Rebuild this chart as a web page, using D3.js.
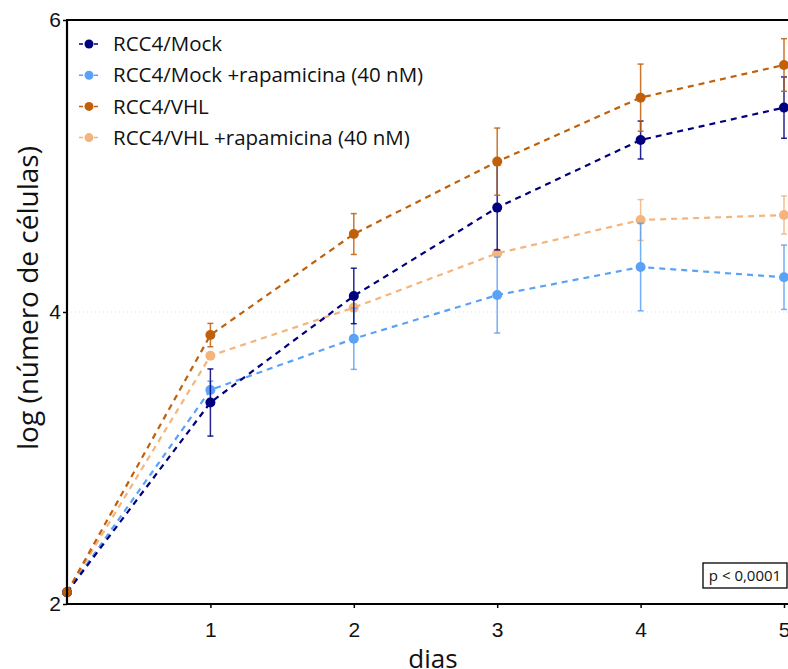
<!DOCTYPE html>
<html><head><meta charset="utf-8">
<script src="https://cdn.jsdelivr.net/npm/d3@7"></script>
<style>html,body{margin:0;padding:0;background:#fff;}svg{display:block;font-family:"Open Sans",sans-serif;}</style>
</head><body>
<svg id="c" width="788" height="669"></svg>
<script>
const days = [0, 1, 2, 3, 4, 5];
const seriesNames = ["RCC4/Mock", "RCC4/Mock +rapamicina (40 nM)", "RCC4/VHL", "RCC4/VHL +rapamicina (40 nM)"];
const seriesColors = ["#00007f", "#5aa2f7", "#c0600a", "#f3b57c"];
const mockVals = [2.08, 3.38, 4.11, 4.715, 5.178, 5.40];
const mockErr  = [0, 0.23, 0.19, 0.29, 0.13, 0.21];
const mockRapaVals = [2.08, 3.466, 3.817, 4.116, 4.308, 4.238];
const mockRapaErr  = [0, 0.06, 0.21, 0.26, 0.30, 0.22];
const vhlVals = [2.08, 3.842, 4.534, 5.03, 5.468, 5.692];
const vhlErr  = [0, 0.08, 0.14, 0.23, 0.23, 0.18];
const vhlRapaVals = [2.08, 3.70, 4.03, 4.402, 4.63, 4.664];
const vhlRapaErr  = [0, 0.02, 0.01, 0.02, 0.14, 0.13];
const yTicks = [2, 4, 6];
const xTicks = [1, 2, 3, 4, 5];
const yTitle = "log (número de células)";
const xTitle = "dias";
const pText = "p < 0,0001";

const series = [
  {name: seriesNames[0], color: seriesColors[0], v: mockVals, e: mockErr},
  {name: seriesNames[1], color: seriesColors[1], v: mockRapaVals, e: mockRapaErr},
  {name: seriesNames[2], color: seriesColors[2], v: vhlVals, e: vhlErr},
  {name: seriesNames[3], color: seriesColors[3], v: vhlRapaVals, e: vhlRapaErr}
];

const svg = d3.select("#c");
const L = 67, R = 784, T = 20, B = 604;
const x = d3.scaleLinear().domain([0, 5]).range([L, R]);
const y = d3.scaleLinear().domain([2, 6]).range([B, T]);

// gridline at 4
svg.append("line").attr("x1", L).attr("x2", 788).attr("y1", y(4)).attr("y2", y(4))
  .attr("stroke", "#ddd").attr("stroke-width", 1).attr("stroke-dasharray", "1,3");

const drawOrder = [3, 1, 0, 2];
drawOrder.forEach(i => {
  const s = series[i];
  const g = svg.append("g");
  const pts = days.map((d, k) => ({d, v: s.v[k], e: s.e[k]}));
  g.append("path").datum(pts)
    .attr("d", d3.line().x(p => x(p.d)).y(p => y(p.v)))
    .attr("fill", "none").attr("stroke", s.color).attr("stroke-width", 2.2)
    .attr("stroke-dasharray", "6,5");
  pts.filter(p => p.e > 0).forEach(p => {
    const x0 = x(p.d), y1 = y(p.v + p.e), y2 = y(p.v - p.e);
    g.append("line").attr("x1", x0).attr("x2", x0).attr("y1", y1).attr("y2", y2)
      .attr("stroke", s.color).attr("stroke-width", 1.5).attr("opacity", 0.85);
    [y1, y2].forEach(yy => g.append("line").attr("x1", x0 - 3).attr("x2", x0 + 3)
      .attr("y1", yy).attr("y2", yy).attr("stroke", s.color).attr("stroke-width", 1.5).attr("opacity", 0.85));
  });
  g.selectAll("circle").data(pts).enter().append("circle")
    .attr("cx", p => x(p.d)).attr("cy", p => y(p.v)).attr("r", 5).attr("fill", s.color);
});

// axes
const xAxis = svg.append("g").attr("transform", `translate(0,${B})`)
  .call(d3.axisBottom(x).tickValues(xTicks).tickSize(4).tickPadding(10).tickFormat(d3.format("d")));
xAxis.select(".domain").remove();
xAxis.selectAll("text").attr("font-size", 21).attr("fill", "#111").attr("dy", "0.9em");
xAxis.selectAll(".tick line").attr("stroke", "#000").attr("stroke-width", 1.5);
svg.append("line").attr("x1", L).attr("x2", 788).attr("y1", B).attr("y2", B).attr("stroke", "#000").attr("stroke-width", 2.2);
svg.append("line").attr("x1", L).attr("x2", 788).attr("y1", T).attr("y2", T).attr("stroke", "#000").attr("stroke-width", 2.2);

const yAxis = svg.append("g").attr("transform", `translate(${L},0)`)
  .call(d3.axisLeft(y).tickValues(yTicks).tickSize(4).tickPadding(2).tickFormat(d3.format("d")));
yAxis.select(".domain").remove();
yAxis.selectAll("text").attr("font-size", 21).attr("fill", "#111");
yAxis.selectAll(".tick line").attr("stroke", "#000").attr("stroke-width", 1.5);
svg.append("line").attr("x1", L).attr("x2", L).attr("y1", T - 1).attr("y2", B + 1).attr("stroke", "#000").attr("stroke-width", 2.2);

// titles
svg.append("text").attr("transform", `translate(38,298) rotate(-90)`)
  .attr("text-anchor", "middle").attr("font-size", 28).attr("fill", "#111").text(yTitle);
svg.append("text").attr("x", 433).attr("y", 668).attr("text-anchor", "middle")
  .attr("font-size", 26).attr("fill", "#111").text(xTitle);

// legend
const leg = svg.append("g");
series.forEach((s, i) => {
  const yy = 44 + i * 31.2;
  leg.append("line").attr("x1", 79).attr("x2", 101).attr("y1", yy).attr("y2", yy)
    .attr("stroke", s.color).attr("stroke-width", 1.5).attr("stroke-dasharray", "4,3.5");
  leg.append("circle").attr("cx", 89).attr("cy", yy).attr("r", 4.5).attr("fill", s.color);
  leg.append("text").attr("x", 113).attr("y", yy).attr("dy", "0.35em")
    .attr("font-size", 20.5).attr("fill", "#111").text(s.name);
});

// p-value box
svg.append("rect").attr("x", 703).attr("y", 563).attr("width", 84).attr("height", 25)
  .attr("fill", "#fff").attr("stroke", "#000").attr("stroke-width", 1.3);
svg.append("text").attr("x", 745).attr("y", 576).attr("dy", "0.35em").attr("text-anchor", "middle")
  .attr("font-size", 15).attr("fill", "#111").text(pText);
</script>
</body></html>
